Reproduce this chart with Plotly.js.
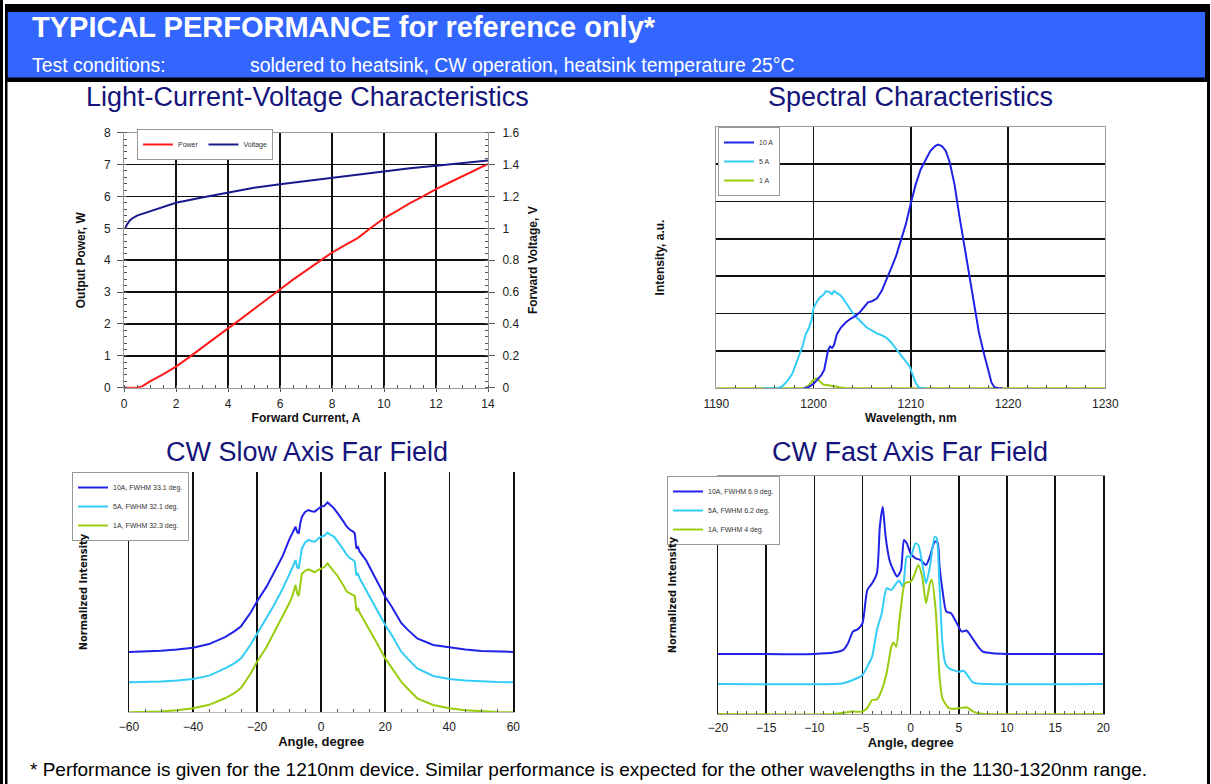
<!DOCTYPE html>
<html>
<head>
<meta charset="utf-8">
<script src="https://cdn.plot.ly/plotly-3.0.1.min.js"></script>
<style>
html,body{margin:0;padding:0;background:#fff;}
#chart{width:1211px;height:784px;}
</style>
</head>
<body>
<div id="chart"></div>
<script>
// ---------- Light-Current-Voltage ----------
const currentA = [0, 0.5, 0.7, 1, 1.5, 2, 2.5, 3, 3.5, 4, 4.5, 5, 5.5, 6, 6.5, 7, 7.5, 8, 8.5, 9, 9.5, 10, 10.5, 11, 11.5, 12, 12.5, 13, 13.5, 14];
const powerW = [0, 0, 0.04, 0.2, 0.42, 0.66, 0.95, 1.26, 1.56, 1.86, 2.16, 2.46, 2.77, 3.08, 3.39, 3.68, 3.96, 4.24, 4.47, 4.7, 5.02, 5.31, 5.55, 5.79, 6.0, 6.23, 6.43, 6.62, 6.82, 7.02];
const voltCurrentA = [0.05, 0.1, 0.2, 0.3, 0.5, 0.8, 1, 1.5, 2, 3, 4, 5, 6, 7, 8, 9, 10, 11, 12, 13, 14];
const voltageV = [1.0, 1.02, 1.045, 1.06, 1.08, 1.095, 1.105, 1.135, 1.16, 1.193, 1.224, 1.255, 1.276, 1.297, 1.318, 1.339, 1.36, 1.377, 1.392, 1.408, 1.425];

// ---------- Spectral ----------
const wl10A = [1199, 1199.5, 1200, 1200.4, 1200.8, 1201.1, 1201.3, 1201.5, 1201.7, 1201.9, 1202.1, 1202.4, 1202.8, 1203.3, 1203.8, 1204.3, 1204.8, 1205.3, 1205.6, 1206, 1206.5, 1207, 1207.5, 1208, 1208.5, 1209, 1209.5, 1210, 1210.5, 1211, 1211.5, 1212, 1212.5, 1212.8, 1213.2, 1213.6, 1214, 1214.5, 1215, 1215.5, 1216, 1216.5, 1217, 1217.5, 1218, 1218.3, 1218.6, 1219, 1219.4];
const int10A = [0, 0.03, 0.12, 0.25, 0.35, 0.5, 0.8, 1.03, 1.12, 1.08, 1.15, 1.45, 1.62, 1.76, 1.86, 1.93, 2.05, 2.2, 2.3, 2.33, 2.4, 2.6, 2.9, 3.22, 3.55, 3.95, 4.4, 4.95, 5.45, 5.85, 6.12, 6.35, 6.48, 6.52, 6.48, 6.35, 6.05, 5.45, 4.6, 3.8, 2.99, 2.2, 1.5, 0.95, 0.42, 0.15, 0.03, 0, 0];
const wl5A = [1194.8, 1196.3, 1196.8, 1197.3, 1197.8, 1198.2, 1198.6, 1198.9, 1199.2, 1199.5, 1199.8, 1200, 1200.3, 1200.6, 1201, 1201.3, 1201.6, 1201.9, 1202.1, 1202.4, 1202.7, 1203, 1203.3, 1203.6, 1204, 1204.5, 1205, 1205.5, 1206, 1206.5, 1207, 1207.5, 1208, 1208.5, 1209, 1209.5, 1209.9, 1210.2, 1210.5, 1210.8, 1211.2, 1211.6];
const int5A = [0, 0, 0.06, 0.2, 0.38, 0.65, 0.95, 1.15, 1.45, 1.6, 1.83, 2.15, 2.3, 2.42, 2.5, 2.6, 2.58, 2.52, 2.6, 2.55, 2.5, 2.42, 2.3, 2.17, 2.03, 1.88, 1.75, 1.62, 1.55, 1.47, 1.42, 1.35, 1.22, 1.05, 0.9, 0.72, 0.58, 0.35, 0.15, 0.03, 0, 0];
const wl1A = [1190, 1199, 1199.5, 1199.9, 1200.3, 1200.6, 1201, 1201.5, 1202, 1202.5, 1203, 1203.3, 1230];
const int1A = [0, 0, 0.08, 0.2, 0.27, 0.2, 0.1, 0.08, 0.06, 0.04, 0.01, 0, 0];

// ---------- Slow axis far field ----------
const slowAngle = [-60, -55, -50, -45, -40, -35, -30, -27, -25, -22, -20, -17, -15, -12, -10, -9, -8, -7.5, -7, -6.5, -6, -5, -4, -3, -2, -1, 0, 1, 2, 3, 4, 5, 6, 7, 8, 9, 10, 10.5, 11, 11.5, 12, 13, 14, 15, 17, 20, 22, 25, 27, 30, 35, 40, 45, 50, 55, 60];
const slow10A = [0.405, 0.408, 0.413, 0.421, 0.434, 0.458, 0.505, 0.545, 0.578, 0.67, 0.745, 0.845, 0.93, 1.05, 1.157, 1.2, 1.246, 1.21, 1.2, 1.27, 1.313, 1.345, 1.358, 1.35, 1.347, 1.365, 1.38, 1.385, 1.409, 1.39, 1.369, 1.34, 1.313, 1.28, 1.246, 1.225, 1.213, 1.2, 1.1, 1.11, 1.08, 1.05, 1.022, 0.98, 0.9, 0.776, 0.71, 0.6, 0.555, 0.496, 0.452, 0.434, 0.421, 0.412, 0.407, 0.405];
const slow5A = [0.201, 0.203, 0.207, 0.214, 0.224, 0.246, 0.295, 0.33, 0.362, 0.455, 0.526, 0.63, 0.709, 0.83, 0.92, 0.97, 1.022, 0.975, 0.966, 1.05, 1.1, 1.14, 1.157, 1.15, 1.145, 1.165, 1.179, 1.185, 1.206, 1.19, 1.179, 1.15, 1.123, 1.09, 1.056, 1.035, 1.022, 1.01, 0.92, 0.93, 0.9, 0.86, 0.82, 0.78, 0.698, 0.586, 0.52, 0.407, 0.36, 0.295, 0.244, 0.224, 0.213, 0.206, 0.203, 0.201];
const slow1A = [0, 0.002, 0.006, 0.014, 0.027, 0.05, 0.094, 0.13, 0.165, 0.26, 0.34, 0.44, 0.52, 0.64, 0.73, 0.78, 0.855, 0.8, 0.78, 0.86, 0.93, 0.95, 0.96, 0.95, 0.94, 0.955, 0.966, 0.975, 1.0, 0.97, 0.944, 0.92, 0.888, 0.85, 0.81, 0.8, 0.79, 0.78, 0.68, 0.7, 0.67, 0.63, 0.6, 0.56, 0.48, 0.362, 0.3, 0.206, 0.16, 0.094, 0.049, 0.027, 0.014, 0.006, 0.002, 0];

// ---------- Fast axis far field ----------
const fast10AAngle = [-20, -10, -8, -7, -6.5, -6, -5.5, -5, -4.5, -4, -3.5, -3.2, -2.9, -2.6, -2.2, -1.8, -1.4, -1.0, -0.7, -0.4, 0, 0.5, 1, 1.6, 2, 2.5, 2.8, 3, 3.3, 3.7, 4.2, 4.7, 5.3, 5.8, 6.3, 7, 7.5, 8.5, 10, 20];
const fast10A = [0.403, 0.403, 0.412, 0.43, 0.474, 0.553, 0.568, 0.609, 0.832, 0.877, 0.944, 1.257, 1.391, 1.19, 1.034, 0.966, 0.922, 0.966, 1.168, 1.145, 1.078, 1.045, 1.034, 1.0, 1.056, 1.157, 1.15, 0.989, 0.832, 0.687, 0.676, 0.62, 0.553, 0.56, 0.519, 0.452, 0.418, 0.407, 0.403, 0.403];
const fast5AAngle = [-20, -8, -7, -6, -5, -4.5, -4, -3.5, -3, -2.5, -2, -1.5, -1.2, -0.8, -0.4, 0, 0.5, 0.8, 1.2, 1.6, 2, 2.5, 2.7, 3, 3.3, 3.6, 4, 5, 5.5, 6, 6.5, 8, 20];
const fast5A = [0.201, 0.201, 0.206, 0.228, 0.262, 0.318, 0.385, 0.564, 0.676, 0.843, 0.832, 0.877, 0.895, 0.855, 1.056, 1.056, 1.145, 1.134, 1.011, 0.877, 0.989, 1.19, 1.18, 0.855, 0.474, 0.34, 0.306, 0.284, 0.29, 0.25, 0.21, 0.201, 0.201];
const fast1AAngle = [-20, -8, -6, -5, -4.5, -4, -3.5, -3, -2.5, -2, -1.8, -1.5, -1.2, -1, -0.6, 0, 0.3, 0.8, 1.2, 1.6, 2.0, 2.2, 2.6, 3.0, 3.3, 4, 5, 5.8, 6.5, 7, 8, 20];
const fast1A = [0, 0, 0.016, 0.016, 0.04, 0.094, 0.098, 0.161, 0.273, 0.452, 0.479, 0.452, 0.609, 0.72, 0.877, 0.888, 0.92, 1.0, 0.92, 0.743, 0.877, 0.9, 0.698, 0.25, 0.105, 0.038, 0.038, 0.045, 0.016, 0.006, 0, 0];

// ---------- Text ----------
const headerTitle = 'TYPICAL PERFORMANCE for reference only*';
const testLabel = 'Test conditions:';
const testText = 'soldered to heatsink, CW operation, heatsink temperature 25°C';
const chartTitles = ['Light-Current-Voltage Characteristics', 'Spectral Characteristics', 'CW Slow Axis Far Field', 'CW Fast Axis Far Field'];
const footerText = '* Performance is given for the 1210nm device. Similar performance is expected for the other wavelengths in the 1130-1320nm range.';
const legendLIV = ['Power', 'Voltage'];
const legendSpec = ['10 A', '5 A', '1 A'];
const legendSlow = ['10A, FWHM 33.1 deg.', '5A, FWHM 32.1 deg.', '1A, FWHM 32.3 deg.'];
const legendFast = ['10A, FWHM 6.9 deg.', '5A, FWHM 6.2 deg.', '1A, FWHM 4 deg.'];

// ---------- layout helpers ----------
const W = 1211, H = 784;
const px = v => v / W;
const py = v => 1 - v / H;

const C10 = '#2222e6', C5 = '#33ccf5', C1 = '#99cc11';
const FONT = 'Liberation Sans, Arial, sans-serif';
const NARROW = 'Liberation Sans Narrow, Arial Narrow, DejaVu Sans Condensed, sans-serif';
const GRID = '#111111';
const GW = 1.5;

const traces = [
  {x: currentA, y: powerW, name: legendLIV[0], type: 'scatter', mode: 'lines', line: {color: '#ff1a1a', width: 2}, xaxis: 'x', yaxis: 'y', legend: 'legend'},
  {x: voltCurrentA, y: voltageV, name: legendLIV[1], type: 'scatter', mode: 'lines', line: {color: '#1a1a8c', width: 2}, xaxis: 'x', yaxis: 'y2', legend: 'legend'},

  {x: wl1A, y: int1A, name: legendSpec[2], type: 'scatter', mode: 'lines', line: {color: C1, width: 2}, xaxis: 'x3', yaxis: 'y3', legend: 'legend2', legendrank: 3},
  {x: wl5A, y: int5A, name: legendSpec[1], type: 'scatter', mode: 'lines', line: {color: C5, width: 2}, xaxis: 'x3', yaxis: 'y3', legend: 'legend2', legendrank: 2},
  {x: wl10A, y: int10A, name: legendSpec[0], type: 'scatter', mode: 'lines', line: {color: C10, width: 2}, xaxis: 'x3', yaxis: 'y3', legend: 'legend2', legendrank: 1},

  {x: slowAngle, y: slow10A, name: legendSlow[0], type: 'scatter', mode: 'lines', line: {color: C10, width: 2}, xaxis: 'x4', yaxis: 'y4', legend: 'legend3'},
  {x: slowAngle, y: slow5A, name: legendSlow[1], type: 'scatter', mode: 'lines', line: {color: C5, width: 2}, xaxis: 'x4', yaxis: 'y4', legend: 'legend3'},
  {x: slowAngle, y: slow1A, name: legendSlow[2], type: 'scatter', mode: 'lines', line: {color: C1, width: 2}, xaxis: 'x4', yaxis: 'y4', legend: 'legend3'},

  {x: fast10AAngle, y: fast10A, name: legendFast[0], type: 'scatter', mode: 'lines', line: {color: C10, width: 2, shape: 'spline', smoothing: 0.6}, xaxis: 'x5', yaxis: 'y5', legend: 'legend4'},
  {x: fast5AAngle, y: fast5A, name: legendFast[1], type: 'scatter', mode: 'lines', line: {color: C5, width: 2, shape: 'spline', smoothing: 0.6}, xaxis: 'x5', yaxis: 'y5', legend: 'legend4'},
  {x: fast1AAngle, y: fast1A, name: legendFast[2], type: 'scatter', mode: 'lines', line: {color: C1, width: 2, shape: 'spline', smoothing: 0.6}, xaxis: 'x5', yaxis: 'y5', legend: 'legend4'}
];

const tickFont = {family: FONT, size: 12, color: '#222'};
const axTitleFont = {family: FONT, size: 12, color: '#111', weight: 'bold'};
const minorX = (d) => ({dtick: d, ticks: 'inside', ticklen: 3, tickcolor: '#555', showgrid: false});

function legendBox(x, y, orient) {
  return {x: px(x), y: py(y), xanchor: 'left', yanchor: 'top', orientation: orient,
    bgcolor: '#ffffff', bordercolor: '#999', borderwidth: 1,
    font: {family: FONT, size: 7, color: '#333'}, itemwidth: 30, tracegroupgap: 0};
}

const layout = {
  width: W, height: H,
  margin: {l: 0, r: 0, t: 0, b: 0},
  paper_bgcolor: '#ffffff', plot_bgcolor: '#ffffff',
  font: {family: FONT},
  showlegend: true,
  legend: legendBox(137, 129, 'h'),
  legend2: legendBox(718, 127, 'v'),
  legend3: legendBox(72, 472, 'v'),
  legend4: legendBox(667, 476, 'v'),

  // LIV
  xaxis: {domain: [px(124), px(488)], anchor: 'y', range: [0, 14], dtick: 2, tickfont: tickFont,
    showgrid: true, gridcolor: GRID, gridwidth: GW, zeroline: false, showline: true, linecolor: '#999', mirror: true,
    ticks: 'outside', ticklen: 3, tickcolor: '#555', ticklabelstandoff: 2, minor: minorX(0.5),
    title: {text: 'Forward Current, A', font: axTitleFont, standoff: 2}},
  yaxis: {domain: [py(387.7), py(132.7)], anchor: 'x', range: [0, 8], dtick: 1, tickfont: tickFont,
    showgrid: true, gridcolor: GRID, gridwidth: GW, zeroline: false, showline: true, linecolor: '#999',
    ticks: 'outside', ticklen: 6, tickcolor: '#555', ticklabelstandoff: 4,
    minor: {dtick: 0.2, ticks: 'inside', ticklen: 3, tickcolor: '#555', showgrid: false},
    title: {text: 'Output Power, W', font: axTitleFont, standoff: 15}},
  yaxis2: {overlaying: 'y', side: 'right', anchor: 'x', range: [0, 1.6], dtick: 0.2, tickfont: tickFont,
    showgrid: false, zeroline: false, showline: true, linecolor: '#999',
    ticks: 'outside', ticklen: 6, tickcolor: '#555', ticklabelstandoff: 5,
    minor: {dtick: 0.04, ticks: 'inside', ticklen: 3, tickcolor: '#555'},
    title: {text: 'Forward Voltage, V', font: axTitleFont, standoff: 10}},

  // Spectral
  xaxis3: {domain: [px(716.3), px(1105.3)], anchor: 'y3', range: [1190, 1230], dtick: 10, tickfont: tickFont,
    showgrid: true, gridcolor: GRID, gridwidth: GW, zeroline: false, showline: true, linecolor: '#999', mirror: true,
    ticks: '', ticklabelstandoff: 4, minor: minorX(2),
    title: {text: 'Wavelength, nm', font: axTitleFont, standoff: 1}},
  yaxis3: {domain: [py(388.3), py(126.7)], anchor: 'x3', range: [0, 7], dtick: 1, showticklabels: false,
    showgrid: true, gridcolor: GRID, gridwidth: GW, zeroline: false, showline: true, linecolor: '#999', mirror: true, ticks: '',
    title: {text: 'Intensity, a.u.', font: axTitleFont, standoff: 48}},

  // Slow axis
  xaxis4: {domain: [px(129), px(513.3)], anchor: 'y4', range: [-60, 60], dtick: 20, tickfont: tickFont,
    showgrid: true, gridcolor: GRID, gridwidth: GW, zeroline: false, showline: true, linecolor: '#bbb',
    ticks: '', ticklabelstandoff: 3, minor: minorX(5),
    title: {text: 'Angle, degree', font: {family: FONT, size: 13, color: '#111', weight: 'bold'}, standoff: 0}},
  yaxis4: {domain: [py(712.3), py(471.7)], anchor: 'x4', range: [0, 1.615], showticklabels: false,
    showgrid: false, zeroline: false, showline: true, linecolor: GRID, linewidth: GW, mirror: true, ticks: '',
    title: {text: 'Normalized Intensity', font: {family: NARROW, size: 11, color: '#111', weight: 'bold'}, standoff: 37}},

  // Fast axis
  xaxis5: {domain: [px(718), px(1103.3)], anchor: 'y5', range: [-20, 20], dtick: 5, tickfont: tickFont,
    showgrid: true, gridcolor: GRID, gridwidth: GW, zeroline: false, showline: true, linecolor: '#999', mirror: true,
    ticks: '', ticklabelstandoff: 3, minor: minorX(1),
    title: {text: 'Angle, degree', font: {family: FONT, size: 13, color: '#111', weight: 'bold'}, standoff: 0}},
  yaxis5: {domain: [py(714), py(476)], anchor: 'x5', range: [0, 1.597], showticklabels: false,
    showgrid: false, zeroline: false, showline: true, linecolor: GRID, linewidth: GW, mirror: true, ticks: '',
    title: {text: 'Normalized Intensity', font: {family: NARROW, size: 11, color: '#111', weight: 'bold'}, standoff: 37}},

  shapes: [
    {type: 'rect', xref: 'paper', yref: 'paper', x0: px(0), x1: px(3), y0: py(784), y1: py(0), fillcolor: '#000', line: {width: 0}, layer: 'above'},
    {type: 'rect', xref: 'paper', yref: 'paper', x0: px(5), x1: px(7.5), y0: py(784), y1: py(4), fillcolor: '#000', line: {width: 0}, layer: 'above'},
    {type: 'rect', xref: 'paper', yref: 'paper', x0: px(1207), x1: px(1210), y0: py(784), y1: py(4), fillcolor: '#000', line: {width: 0}, layer: 'above'},
    {type: 'rect', xref: 'paper', yref: 'paper', x0: px(5), x1: px(1210), y0: py(82), y1: py(4), fillcolor: '#000', line: {width: 0}, layer: 'below'},
    {type: 'rect', xref: 'paper', yref: 'paper', x0: px(7.5), x1: px(1205), y0: py(77.5), y1: py(12), fillcolor: '#3366ff', line: {width: 0}, layer: 'below'}
  ],

  annotations: [
    {text: '<b>' + headerTitle + '</b>', xref: 'paper', yref: 'paper', x: px(30), y: py(27), xanchor: 'left', yanchor: 'middle', showarrow: false,
      font: {family: FONT, size: 29, color: '#ffffff'}},
    {text: testLabel, xref: 'paper', yref: 'paper', x: px(30), y: py(65), xanchor: 'left', yanchor: 'middle', showarrow: false,
      font: {family: FONT, size: 19.4, color: '#ffffff'}},
    {text: testText, xref: 'paper', yref: 'paper', x: px(248), y: py(65), xanchor: 'left', yanchor: 'middle', showarrow: false,
      font: {family: FONT, size: 19.4, color: '#ffffff'}},
    {text: chartTitles[0], xref: 'paper', yref: 'paper', x: px(307), y: py(97), xanchor: 'center', yanchor: 'middle', showarrow: false,
      font: {family: FONT, size: 27, color: '#14147a'}},
    {text: chartTitles[1], xref: 'paper', yref: 'paper', x: px(910), y: py(97), xanchor: 'center', yanchor: 'middle', showarrow: false,
      font: {family: FONT, size: 27, color: '#14147a'}},
    {text: chartTitles[2], xref: 'paper', yref: 'paper', x: px(307), y: py(452), xanchor: 'center', yanchor: 'middle', showarrow: false,
      font: {family: FONT, size: 27, color: '#14147a'}},
    {text: chartTitles[3], xref: 'paper', yref: 'paper', x: px(910), y: py(452), xanchor: 'center', yanchor: 'middle', showarrow: false,
      font: {family: FONT, size: 27, color: '#14147a'}},
    {text: footerText, xref: 'paper', yref: 'paper', x: px(28), y: py(769), xanchor: 'left', yanchor: 'middle', showarrow: false,
      font: {family: FONT, size: 19, color: '#000'}}
  ]
};

Plotly.newPlot('chart', traces, layout, {staticPlot: true, displayModeBar: false});
</script>
</body>
</html>
